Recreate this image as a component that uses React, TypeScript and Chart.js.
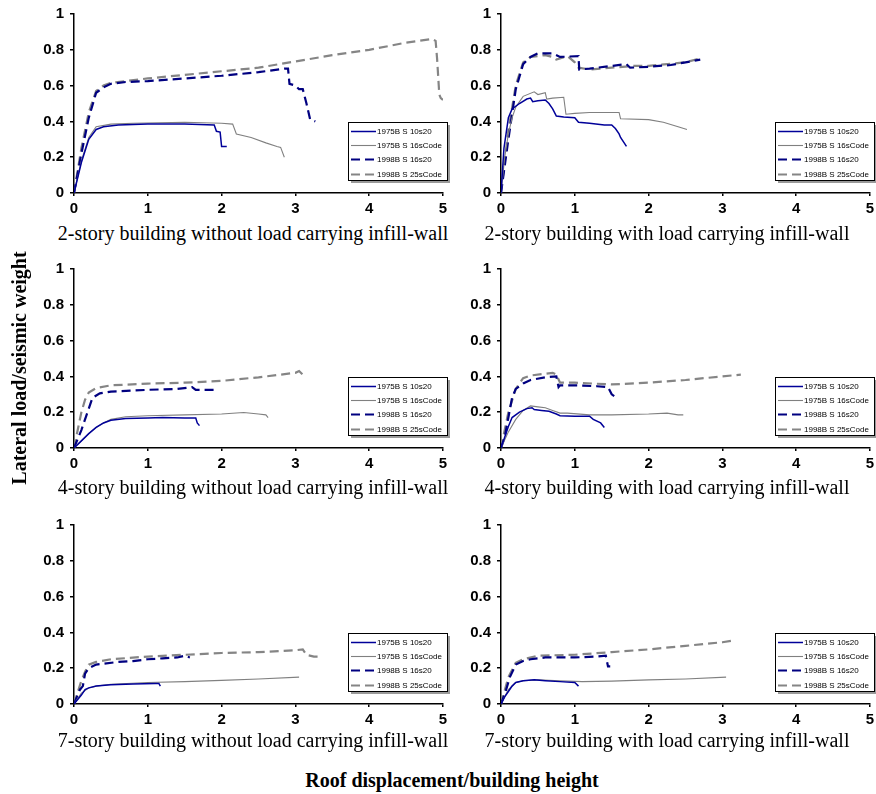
import React, { useEffect, useRef } from "react";
import { Chart, registerables } from "chart.js";
Chart.register(...registerables);

// ---------- text ----------
const seriesNames = ["1975B S 10s20", "1975B S 16sCode", "1998B S 16s20", "1998B S 25sCode"];
const panelTitles = [
  "2-story building without load carrying infill-wall",
  "2-story building with load carrying infill-wall",
  "4-story building without load carrying infill-wall",
  "4-story building with load carrying infill-wall",
  "7-story building without load carrying infill-wall",
  "7-story building with load carrying infill-wall",
];
const yAxisTitle = "Lateral load/seismic weight";
const xAxisTitle = "Roof displacement/building height";
const xRange = [0, 5];
const yRange = [0, 1];
const xStep = 1;
const yStep = 0.2;

// ---------- data: [roof displacement/height, lateral load/seismic weight] ----------
// Panel 1: 2-story without infill
const p1_75_10s20 = [[0,0],[0.1,0.17],[0.2,0.3],[0.3,0.355],[0.4,0.37],[0.6,0.38],[1.0,0.385],[1.5,0.385],[1.9,0.38],[1.93,0.345],[1.98,0.34],[2.0,0.26],[2.07,0.26]];
const p1_75_16sCode = [[0,0],[0.1,0.18],[0.2,0.31],[0.3,0.37],[0.5,0.385],[0.8,0.39],[1.5,0.395],[2.0,0.39],[2.15,0.385],[2.2,0.33],[2.4,0.31],[2.6,0.28],[2.75,0.26],[2.8,0.255],[2.85,0.2]];
const p1_98_16s20 = [[0,0],[0.1,0.22],[0.2,0.42],[0.3,0.56],[0.4,0.59],[0.5,0.61],[0.7,0.62],[1.0,0.625],[1.5,0.64],[2.0,0.655],[2.5,0.675],[2.85,0.695],[2.9,0.695],[2.92,0.61],[3.0,0.6],[3.05,0.58],[3.1,0.58],[3.15,0.5],[3.2,0.41],[3.27,0.4]];
const p1_98_25sCode = [[0,0],[0.1,0.25],[0.2,0.45],[0.3,0.57],[0.4,0.6],[0.5,0.615],[1.0,0.64],[1.5,0.66],[2.0,0.68],[2.5,0.7],[3.0,0.735],[3.5,0.77],[4.0,0.8],[4.5,0.84],[4.85,0.86],[4.9,0.85],[4.92,0.75],[4.95,0.55],[4.97,0.53],[5.0,0.52]];
// Panel 2: 2-story with infill
const p2_75_10s20 = [[0,0],[0.04,0.25],[0.1,0.42],[0.15,0.47],[0.25,0.5],[0.35,0.525],[0.4,0.53],[0.43,0.51],[0.5,0.515],[0.6,0.52],[0.65,0.5],[0.7,0.47],[0.75,0.43],[0.85,0.425],[1.0,0.42],[1.05,0.395],[1.2,0.39],[1.4,0.38],[1.5,0.38],[1.55,0.36],[1.6,0.33],[1.62,0.31],[1.7,0.26]];
const p2_75_16sCode = [[0,0],[0.05,0.2],[0.1,0.33],[0.15,0.42],[0.2,0.48],[0.3,0.54],[0.45,0.565],[0.5,0.55],[0.6,0.56],[0.62,0.525],[0.7,0.53],[0.85,0.535],[0.88,0.44],[1.0,0.445],[1.2,0.45],[1.6,0.45],[1.62,0.415],[2.0,0.41],[2.2,0.395],[2.4,0.37],[2.52,0.355]];
const p2_98_16s20 = [[0,0],[0.1,0.3],[0.2,0.58],[0.3,0.72],[0.4,0.76],[0.5,0.78],[0.7,0.78],[0.8,0.76],[1.05,0.765],[1.06,0.69],[1.2,0.695],[1.5,0.71],[1.7,0.72],[1.75,0.7],[2.0,0.705],[2.3,0.715],[2.5,0.73],[2.7,0.745]];
const p2_98_25sCode = [[0,0],[0.1,0.35],[0.2,0.6],[0.3,0.73],[0.4,0.76],[0.6,0.77],[0.7,0.76],[0.75,0.745],[0.9,0.765],[1.0,0.73],[1.05,0.7],[1.2,0.69],[1.5,0.7],[1.8,0.71],[2.0,0.71],[2.5,0.73],[2.72,0.755]];
// Panel 3: 4-story without infill
const p3_75_10s20 = [[0,0],[0.1,0.04],[0.2,0.08],[0.3,0.115],[0.4,0.14],[0.5,0.155],[0.7,0.165],[1.0,0.168],[1.2,0.17],[1.5,0.168],[1.65,0.168],[1.67,0.14],[1.7,0.125]];
const p3_75_16sCode = [[0,0],[0.1,0.04],[0.2,0.08],[0.3,0.115],[0.4,0.14],[0.5,0.16],[0.7,0.175],[1.0,0.18],[1.5,0.185],[2.0,0.19],[2.3,0.198],[2.5,0.19],[2.6,0.185],[2.63,0.17]];
const p3_98_16s20 = [[0,0],[0.1,0.1],[0.2,0.22],[0.25,0.28],[0.35,0.305],[0.5,0.315],[1.0,0.325],[1.4,0.33],[1.6,0.34],[1.65,0.325],[1.9,0.325]];
const p3_98_25sCode = [[0,0],[0.1,0.2],[0.15,0.27],[0.2,0.31],[0.3,0.335],[0.5,0.35],[1.0,0.36],[1.5,0.365],[2.0,0.375],[2.5,0.395],[3.0,0.42],[3.05,0.43],[3.1,0.41],[3.15,0.405]];
// Panel 4: 4-story with infill
const p4_75_10s20 = [[0,0],[0.05,0.06],[0.1,0.12],[0.15,0.17],[0.25,0.2],[0.35,0.22],[0.42,0.225],[0.45,0.215],[0.55,0.21],[0.65,0.205],[0.75,0.19],[0.8,0.18],[1.0,0.178],[1.2,0.178],[1.25,0.16],[1.35,0.14],[1.4,0.115]];
const p4_75_16sCode = [[0,0],[0.1,0.09],[0.2,0.16],[0.3,0.21],[0.4,0.235],[0.5,0.23],[0.6,0.225],[0.7,0.21],[0.8,0.195],[0.9,0.195],[1.2,0.185],[1.5,0.185],[2.0,0.19],[2.25,0.195],[2.4,0.185],[2.47,0.185]];
const p4_98_16s20 = [[0,0],[0.05,0.06],[0.1,0.17],[0.15,0.28],[0.2,0.33],[0.3,0.36],[0.4,0.38],[0.6,0.395],[0.75,0.4],[0.78,0.34],[0.8,0.35],[1.0,0.35],[1.3,0.345],[1.45,0.34],[1.5,0.3],[1.55,0.285]];
const p4_98_25sCode = [[0,0],[0.1,0.2],[0.2,0.33],[0.3,0.39],[0.4,0.405],[0.6,0.415],[0.7,0.42],[0.75,0.41],[0.8,0.365],[1.0,0.365],[1.5,0.355],[2.0,0.365],[2.5,0.38],[3.0,0.4],[3.25,0.41]];
// Panel 5: 7-story without infill
const p5_75_10s20 = [[0,0],[0.1,0.05],[0.15,0.08],[0.2,0.09],[0.3,0.1],[0.5,0.108],[0.8,0.112],[1.1,0.115],[1.15,0.115],[1.17,0.1]];
const p5_75_16sCode = [[0,0],[0.1,0.06],[0.2,0.09],[0.3,0.1],[0.5,0.11],[1.0,0.12],[1.5,0.125],[2.0,0.132],[2.5,0.14],[3.05,0.15]];
const p5_98_16s20 = [[0,0],[0.08,0.08],[0.12,0.1],[0.15,0.17],[0.2,0.2],[0.3,0.22],[0.4,0.225],[0.6,0.235],[0.8,0.24],[1.0,0.25],[1.2,0.255],[1.4,0.26],[1.5,0.27],[1.57,0.26]];
const p5_98_25sCode = [[0,0],[0.1,0.13],[0.15,0.18],[0.2,0.22],[0.3,0.235],[0.5,0.25],[1.0,0.265],[1.5,0.275],[2.0,0.285],[2.5,0.29],[3.0,0.3],[3.1,0.305],[3.15,0.275],[3.25,0.265],[3.35,0.265]];
// Panel 6: 7-story with infill
const p6_75_10s20 = [[0,0],[0.05,0.04],[0.1,0.07],[0.15,0.1],[0.2,0.12],[0.3,0.13],[0.45,0.135],[0.6,0.13],[0.8,0.125],[1.0,0.12],[1.05,0.1]];
const p6_75_16sCode = [[0,0],[0.1,0.08],[0.2,0.12],[0.3,0.13],[0.5,0.135],[0.8,0.13],[1.1,0.125],[1.5,0.128],[2.0,0.135],[2.5,0.14],[3.05,0.15]];
const p6_98_16s20 = [[0,0],[0.07,0.08],[0.12,0.15],[0.2,0.22],[0.3,0.24],[0.4,0.25],[0.6,0.26],[1.0,0.26],[1.3,0.265],[1.42,0.27],[1.45,0.21],[1.48,0.21]];
const p6_98_25sCode = [[0,0],[0.1,0.15],[0.2,0.23],[0.3,0.25],[0.5,0.27],[1.0,0.275],[1.5,0.29],[2.0,0.305],[2.5,0.325],[3.0,0.345],[3.15,0.355]];

const panelSeries = [
  [p1_75_10s20, p1_75_16sCode, p1_98_16s20, p1_98_25sCode],
  [p2_75_10s20, p2_75_16sCode, p2_98_16s20, p2_98_25sCode],
  [p3_75_10s20, p3_75_16sCode, p3_98_16s20, p3_98_25sCode],
  [p4_75_10s20, p4_75_16sCode, p4_98_16s20, p4_98_25sCode],
  [p5_75_10s20, p5_75_16sCode, p5_98_16s20, p5_98_25sCode],
  [p6_75_10s20, p6_75_16sCode, p6_98_16s20, p6_98_25sCode],
];

// ---------- styles ----------
const seriesStyles = [
  { color: "#000099", width: 1.5, dash: [] as number[] },
  { color: "#808080", width: 1.1, dash: [] as number[] },
  { color: "#000080", width: 2.2, dash: [9, 5] },
  { color: "#858585", width: 2.2, dash: [9, 5] },
];

const PLOT_W = 369;
const PLOT_H = 179;
const AXIS_W = 74;
const AXIS_H = 28;
const PAD_TOP = 12;
const colLeft = [74, 501];
const colPadRight = [10, 6];
const rowTop = [14, 269, 525];
const titleCx = [253, 667];
const titleCy = [233, 487, 740];

const tickFont = { family: "'Liberation Sans', Arial, sans-serif", size: 15, weight: "bold" as const };
const fmtTick = (v: any) => String(Number(Number(v).toFixed(1)));

const legendPlugin = {
  id: "boxLegend",
  afterDraw(chart: any) {
    const { ctx, chartArea } = chart;
    const w = 99, h = 58;
    const right = chartArea.right + 4;
    const left = right - w;
    const bottom = chartArea.bottom - 13;
    const top = bottom - h;
    ctx.save();
    ctx.fillStyle = "#9a9a9a";
    ctx.fillRect(left + 3, top + 3, w, h);
    ctx.fillStyle = "#ffffff";
    ctx.fillRect(left, top, w, h);
    ctx.strokeStyle = "#000";
    ctx.lineWidth = 1;
    ctx.setLineDash([]);
    ctx.strokeRect(left + 0.5, top + 0.5, w, h);
    chart.data.datasets.forEach((ds: any, i: number) => {
      const y = Math.round(top + 9 + i * 14.2) + 0.5;
      ctx.beginPath();
      ctx.strokeStyle = ds.borderColor;
      ctx.lineWidth = ds.borderWidth;
      ctx.setLineDash(ds.borderDash || []);
      ctx.moveTo(left + 3, y);
      ctx.lineTo(left + 28, y);
      ctx.stroke();
      ctx.setLineDash([]);
      ctx.fillStyle = "#000";
      ctx.font = "8px 'Liberation Sans', Arial, sans-serif";
      ctx.textBaseline = "middle";
      ctx.textAlign = "left";
      ctx.fillText(ds.label, left + 29, y);
    });
    ctx.restore();
  },
};

function Panel({ index }: { index: number }) {
  const ref = useRef<HTMLCanvasElement | null>(null);
  const col = index % 2;
  const row = Math.floor(index / 2);
  const padRight = colPadRight[col];
  const cw = PLOT_W + AXIS_W + padRight;
  const chh = PLOT_H + PAD_TOP + AXIS_H;
  const left = colLeft[col] - AXIS_W;
  const top = rowTop[row] - PAD_TOP;

  useEffect(() => {
    if (!ref.current) return;
    const datasets = panelSeries[index].map((pts, i) => ({
      label: seriesNames[i],
      data: pts.map(([x, y]) => ({ x, y })),
      borderColor: seriesStyles[i].color,
      borderWidth: seriesStyles[i].width,
      borderDash: seriesStyles[i].dash,
      pointRadius: 0,
      tension: 0,
      fill: false,
    }));
    const chart = new Chart(ref.current, {
      type: "line",
      data: { datasets },
      plugins: [legendPlugin],
      options: {
        animation: false,
        responsive: false,
        devicePixelRatio: 1,
        layout: { padding: { left: 0, top: PAD_TOP, right: padRight, bottom: 0 } },
        plugins: { legend: { display: false }, tooltip: { enabled: false }, title: { display: false } },
        scales: {
          x: {
            type: "linear",
            min: xRange[0],
            max: xRange[1],
            ticks: { stepSize: xStep, font: tickFont, color: "#000", padding: 4, maxRotation: 0, callback: fmtTick },
            grid: { drawOnChartArea: false, drawTicks: true, tickLength: 3, color: "#000", lineWidth: 1.5 },
            border: { display: true, color: "#000", width: 1.5 },
            afterFit: (s: any) => { s.height = AXIS_H; s.paddingLeft = 0; s.paddingRight = 0; },
          },
          y: {
            type: "linear",
            min: yRange[0],
            max: yRange[1],
            ticks: { stepSize: yStep, font: tickFont, color: "#000", padding: 6, callback: fmtTick },
            grid: { drawOnChartArea: false, drawTicks: true, tickLength: 4, color: "#000", lineWidth: 1.5 },
            border: { display: true, color: "#000", width: 1.5 },
            afterFit: (s: any) => { s.width = AXIS_W; s.paddingTop = 0; s.paddingBottom = 0; },
          },
        },
      } as any,
    });
    return () => chart.destroy();
  }, [index]);

  return (
    <canvas
      ref={ref}
      width={cw}
      height={chh}
      style={{ position: "absolute", left, top, width: cw, height: chh }}
    />
  );
}

const serif = "'Liberation Serif', 'Times New Roman', Times, serif";

export default function App() {
  return (
    <div style={{ position: "absolute", left: 0, top: 0, width: 876, height: 794, background: "#fff", overflow: "hidden" }}>
      {panelTitles.map((_, i) => (
        <Panel key={"p" + i} index={i} />
      ))}
      {panelTitles.map((t, i) => {
        const cx = titleCx[i % 2];
        const cy = titleCy[Math.floor(i / 2)];
        return (
          <div
            key={"t" + i}
            style={{
              position: "absolute", left: cx - 220, top: cy - 12, width: 440, height: 24,
              lineHeight: "24px", fontSize: 20, fontFamily: serif, textAlign: "center",
              whiteSpace: "nowrap", color: "#000",
            }}
          >
            {t}
          </div>
        );
      })}
      <div
        style={{
          position: "absolute", left: 19 - 150, top: 368 - 12, width: 300, height: 24,
          lineHeight: "24px", fontSize: 20, fontWeight: "bold", fontFamily: serif,
          textAlign: "center", whiteSpace: "nowrap", transform: "rotate(-90deg)", color: "#000",
        }}
      >
        {yAxisTitle}
      </div>
      <div
        style={{
          position: "absolute", left: 452 - 200, top: 780 - 12, width: 400, height: 24,
          lineHeight: "24px", fontSize: 20, fontWeight: "bold", fontFamily: serif,
          textAlign: "center", whiteSpace: "nowrap", color: "#000",
        }}
      >
        {xAxisTitle}
      </div>
    </div>
  );
}
